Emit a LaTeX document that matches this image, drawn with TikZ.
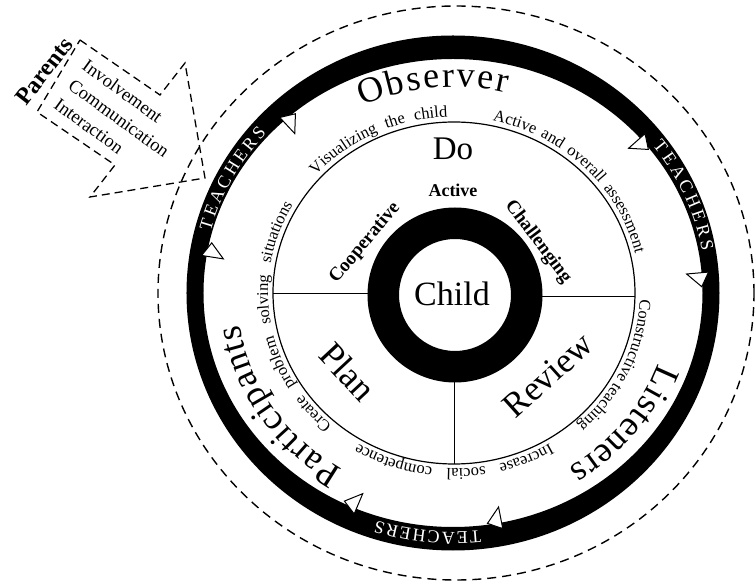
\documentclass[tikz,border=0pt]{standalone}
\usepackage{fontspec}
\setmainfont{Liberation Serif}
\usetikzlibrary{decorations.text}

\newcommand\rolefont{\fontsize{36}{40}\selectfont}
\newcommand\teachfont{\fontsize{18}{20}\selectfont}
\newcommand\aimfont{\fontsize{16.5}{18}\selectfont}

\tikzset{
  dashline/.style={line width=1.4pt, dash pattern=on 9pt off 6pt},
  arrowline/.style={line width=1.3pt, dash pattern=on 8pt off 5pt},
  tri/.style={fill=white, draw=black, line width=1pt, line join=miter},
  teachtext/.style={decorate, decoration={text along path, text align={fit to path},
      text color=white, text={|\teachfont|TEACHERS}}},
  roletext/.style={decorate, decoration={text along path, text align={fit to path},
      text={|\rolefont|#1}}},
  aimtext/.style={decorate, decoration={text along path,
      text align={fit to path stretching spaces}, text={|\aimfont|#1}}}
}

\begin{document}
\begin{tikzpicture}[x=1pt, y=1pt]
  \useasboundingbox (-454,-290) rectangle (301,293);

  % outer dashed ring
  \draw[dashline] (2,0) ellipse[x radius=298pt, y radius=287pt];

  % parents arrow
  \coordinate (tail top) at (-374,253);
  \coordinate (shaft top) at (-294,198);
  \coordinate (barb top) at (-269,230);
  \coordinate (tip) at (-249,115);
  \coordinate (barb low) at (-364,96);
  \coordinate (shaft low) at (-339,128);
  \coordinate (tail low) at (-417,181);
  \draw[arrowline] (tail top) -- (shaft top) -- (barb top) -- (tip) -- (barb low)
     -- (shaft low) -- (tail low) -- cycle;
  \node[rotate=52, font=\bfseries\fontsize{24}{26}\selectfont] (parents) at (-410,222) {Parents};
  \node[rotate=-36, align=left, font=\fontsize{18.5}{24}\selectfont] (ties) at (-335,175)
     {Involvement\\Communication\\Interaction};

  % teachers band
  \fill[even odd rule] (-1,0) ellipse[x radius=266.5pt, y radius=257.5pt]
                       (-1,0) ellipse[x radius=249.5pt, y radius=234pt];
  \foreach \a in {171,133,41.6,5,-79,-113}
    \draw[tri, shift={(\a:249.5pt and 234pt)}, rotate=\a-90] (0,-16) -- (0,6) -- (14,-2) -- cycle;

  \path[teachtext] (165:252pt and 239pt) arc[start angle=165, end angle=138, x radius=252pt, y radius=239pt];
  \path[teachtext] (38:252pt and 239pt) arc[start angle=38, end angle=10, x radius=252pt, y radius=239pt];
  \path[teachtext] (-84:252pt and 239pt) arc[start angle=-84, end angle=-108, x radius=252pt, y radius=239pt];

  % roles
  \path[roletext=Observer] (115:217pt and 206pt) arc[start angle=115, end angle=76, x radius=217pt, y radius=206pt];
  \path[roletext=Listeners] (-20:217pt and 206pt) arc[start angle=-20, end angle=-58, x radius=217pt, y radius=206pt];
  \path[roletext=Participants] (239:217pt and 206pt) arc[start angle=239, end angle=189, x radius=217pt, y radius=206pt];

  % plan do review circle
  \draw[line width=1.2pt] (0,0) ellipse[x radius=181pt, y radius=171pt];
  \coordinate (w out) at (-181,0);
  \coordinate (w in) at (-86,0);
  \coordinate (e out) at (181,-3);
  \coordinate (e in) at (88,-3);
  \coordinate (s out) at (0,-171);
  \coordinate (s in) at (0,-89);
  \draw (w out) -- (w in);
  \draw (e in) -- (e out);
  \draw (s in) -- (s out);

  \path[aimtext=Visualizing the child] (138:186pt and 176pt) arc[start angle=138, end angle=92, x radius=186pt, y radius=176pt];
  \path[aimtext=Active and overall assessment] (78:186pt and 176pt) arc[start angle=78, end angle=13, x radius=186pt, y radius=176pt];
  \path[aimtext=Constructive teaching] (-2:186pt and 176pt) arc[start angle=-2, end angle=-48, x radius=186pt, y radius=176pt];
  \path[aimtext=Increase social competence] (-59:186pt and 176pt) arc[start angle=-59, end angle=-121, x radius=186pt, y radius=176pt];
  \path[aimtext=Create problem solving situations] (229:186pt and 176pt) arc[start angle=229, end angle=150, x radius=186pt, y radius=176pt];

  % child
  \fill[even odd rule] (1,-2) circle[radius=87.5pt] (1,-2) circle[radius=56pt];
  \node (child) at (-2,-1) {\fontsize{34}{40}\selectfont Child};
  \node (do) at (-1,144) {\fontsize{33}{40}\selectfont Do};
  \node[rotate=-47] (plan) at (-106,-79) {\fontsize{36}{40}\selectfont Plan};
  \node[rotate=42] (review) at (94,-82) {\fontsize{35}{40}\selectfont Review};
  \node[font=\bfseries\fontsize{18}{20}\selectfont] (active) at (-1,103) {Active};
  \node[rotate=50, font=\bfseries\fontsize{19}{20}\selectfont] (coop) at (-89,50) {Cooperative};
  \node[rotate=-53, font=\bfseries\fontsize{19}{20}\selectfont] (chall) at (84,51) {Challenging};
\end{tikzpicture}
\end{document}
